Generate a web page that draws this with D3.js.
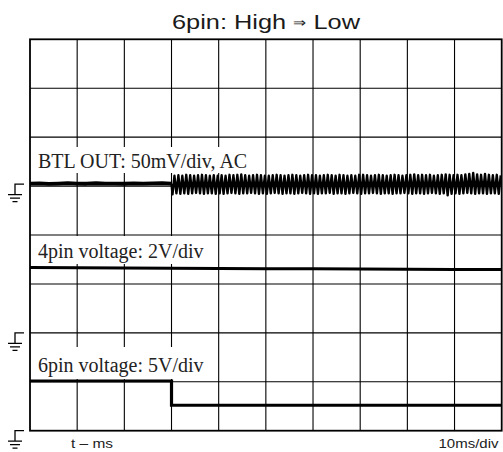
<!DOCTYPE html>
<html>
<head>
<meta charset="utf-8">
<script src="https://cdn.jsdelivr.net/npm/d3@7"></script>
<style>
  html, body { margin: 0; padding: 0; background: #fff; }
  svg { display: block; }
</style>
</head>
<body>
<svg id="chart" width="503" height="452"></svg>
<script>
// ---------- data ----------
const titleParts = ["6pin: High ", "\u21D2", " Low"];
const timeTicks = [0, 10, 20, 30, 40, 50, 60, 70, 80, 90, 100];   // ms, 10 ms/div
const divTicks = [0, 1, 2, 3, 4, 5, 6, 7, 8];                      // vertical divisions
const xLabel = "t \u2013 ms";
const xScaleLabel = "10ms/div";

const channelNames = ["BTL OUT: 50mV/div, AC", "4pin voltage: 2V/div", "6pin voltage: 5V/div"];
const channelPerDiv = [50, 2, 5];          // mV/div, V/div, V/div
const channelGroundDiv = [5.04, 2, 0];     // ground marker positions (divisions from bottom)

// BTL OUT before the switch (mV), sampled every 2 ms from 0 to 30 ms
const btlFlatTime = [0, 2, 4, 6, 8, 10, 12, 14, 16, 18, 20, 22, 24, 26, 28, 30];
const btlFlatMv = [0.5, 0.8, 0.3, 0.6, 1.0, 0.5, 0.4, 0.9, 0.5, 0.6, 0.4, 0.8, 0.5, 0.7, 1.0, 0.6];

// BTL OUT after the switch: ripple of ~12 cycles per division, peak / trough per cycle (mV)
const btlRippleStart = 30;       // ms
const btlRipplePeriod = 10 / 12; // ms
const btlPeakMv = [
  8.5, 9, 8.5, 9.5, 9, 8.5, 9, 9.5, 9, 8.5, 9, 8.5,
  9, 8.5, 9.5, 9, 9.5, 10, 9, 8.5, 9, 9.5, 9, 8.5,
  8.5, 9, 9.5, 9, 8.5, 9, 9.5, 9, 8.5, 9, 9.5, 9,
  9, 8.5, 9, 9.5, 9, 8.5, 9.5, 9, 8.5, 9, 8.5, 9.5,
  9.5, 9, 8.5, 9, 9.5, 9, 8.5, 9, 9.5, 9, 8.5, 9,
  9.5, 10, 9, 9.5, 9, 9.5, 8.5, 9, 9.5, 10, 9.5, 9,
  9.5, 9, 10, 10.5, 11.5, 10, 9.5, 10.5, 9.5, 9, 9.5, 9
];
const btlTroughMv = [
  -10.5, -9.5, -10, -9.5, -10, -9.5, -9, -9.5, -10, -9.5, -9.5, -10,
  -9.5, -10, -9.5, -9, -9.5, -10, -9.5, -9.5, -9, -9.5, -10, -9.5,
  -10, -9.5, -9, -9.5, -10, -9.5, -9.5, -10, -9.5, -9, -9.5, -10,
  -9.5, -10, -9.5, -9.5, -9, -10, -9.5, -9.5, -10, -9.5, -9, -9.5,
  -10, -9.5, -9.5, -9, -9.5, -10, -9.5, -9.5, -10, -9.5, -9.5, -9,
  -9.5, -10, -9.5, -9.5, -10, -9.5, -9, -9.5, -10, -9.5, -11.5, -10,
  -9.5, -10, -9.5, -9, -9.5, -10, -9.5, -9.5, -10, -9.5, -9.5, -10
];

// 4pin voltage (V)
const pin4Time = [0, 10, 20, 30, 40, 50, 60, 70, 80, 90, 100];
const pin4V = [2.67, 2.66, 2.65, 2.64, 2.63, 2.62, 2.62, 2.61, 2.6, 2.59, 2.59];

// 6pin voltage (V): step High -> Low at 30 ms
const pin6Time = [0, 30, 30, 100];
const pin6V = [5.08, 5.08, 2.6, 2.6];

// ---------- drawing ----------
const svg = d3.select("#chart");
const x = d3.scaleLinear().domain([0, 100]).range([30, 501.7]);
const y = d3.scaleLinear().domain([0, 8]).range([430.7, 39.3]);
const yCh = (ch, v) => y(channelGroundDiv[ch] + v / channelPerDiv[ch]);

svg.append("defs").append("clipPath").attr("id", "plotClip")
  .append("rect")
  .attr("x", x(0)).attr("y", y(8))
  .attr("width", x(100) - x(0)).attr("height", y(0) - y(8));

const sans = "'Liberation Sans', Arial, Helvetica, sans-serif";

// title
const titleText = svg.append("text")
  .attr("x", 172).attr("y", 29)
  .attr("textLength", 188).attr("lengthAdjust", "spacingAndGlyphs")
  .style("font-family", sans)
  .style("font-size", "21px")
  .attr("fill", "#1a1a1a");
titleText.append("tspan").text(titleParts[0]);
titleText.append("tspan").style("font-size", "13px").attr("dy", -2).text(titleParts[1]);
titleText.append("tspan").attr("dy", 2).text(titleParts[2]);

// grid
const grid = svg.append("g").attr("stroke", "#000").attr("stroke-width", 1.1);
grid.selectAll("line.v").data(timeTicks.slice(1, -1)).join("line")
  .attr("x1", d => x(d)).attr("x2", d => x(d))
  .attr("y1", y(8)).attr("y2", y(0));
grid.selectAll("line.h").data(divTicks.slice(1, -1)).join("line")
  .attr("x1", x(0)).attr("x2", x(100))
  .attr("y1", d => y(d)).attr("y2", d => y(d));

// label boxes (white backgrounds hiding the grid) and labels
const labelBoxes = [
  { x0: 31, x1: 264, y0: 147, y1: 173, base: 168 },
  { x0: 31, x1: 216, y0: 236, y1: 264, base: 257.5 },
  { x0: 31, x1: 216, y0: 347, y1: 379, base: 371.5 }
];
labelBoxes.forEach((b, i) => {
  svg.append("rect").attr("x", b.x0).attr("y", b.y0)
    .attr("width", b.x1 - b.x0).attr("height", b.y1 - b.y0).attr("fill", "#fff");
  svg.append("text").attr("x", 38).attr("y", b.base)
    .style("font-family", "'Liberation Serif', 'Times New Roman', serif")
    .style("font-size", "20px")
    .attr("fill", "#222")
    .text(channelNames[i]);
});

// outer frame
svg.append("rect")
  .attr("x", x(0)).attr("y", y(8))
  .attr("width", x(100) - x(0)).attr("height", y(0) - y(8))
  .attr("fill", "none").attr("stroke", "#000").attr("stroke-width", 1.8);

// traces
const traces = svg.append("g").attr("clip-path", "url(#plotClip)");
const line = d3.line();

const btlFlat = btlFlatTime.map((t, i) => [x(t), yCh(0, btlFlatMv[i])]);
traces.append("path").attr("d", line(btlFlat))
  .attr("fill", "none").attr("stroke", "#000").attr("stroke-width", 3.8)
  .attr("stroke-linejoin", "round");

const ripple = [[x(btlRippleStart), yCh(0, btlFlatMv[btlFlatMv.length - 1])]];
btlPeakMv.forEach((p, i) => {
  const t0 = btlRippleStart + i * btlRipplePeriod;
  ripple.push([x(t0 + btlRipplePeriod * 0.25), yCh(0, btlTroughMv[i])]);
  ripple.push([x(t0 + btlRipplePeriod * 0.75), yCh(0, p)]);
});
traces.append("path").attr("d", line(ripple))
  .attr("fill", "none").attr("stroke", "#000").attr("stroke-width", 2.4)
  .attr("stroke-linejoin", "round");

traces.append("path")
  .attr("d", line(pin4Time.map((t, i) => [x(t), yCh(1, pin4V[i])])))
  .attr("fill", "none").attr("stroke", "#000").attr("stroke-width", 3);

traces.append("path")
  .attr("d", line(pin6Time.map((t, i) => [x(t), yCh(2, pin6V[i])])))
  .attr("fill", "none").attr("stroke", "#000").attr("stroke-width", 3.2);

// ground markers
const gnd = svg.append("g").attr("stroke", "#000").attr("stroke-width", 1.3).attr("fill", "none");
channelGroundDiv.forEach(gd => {
  const g = y(gd);
  gnd.append("path").attr("d",
    `M24,${g}H15V${g + 10.5}` +
    `M8,${g + 10.5}H22` +
    `M10,${g + 14}H20` +
    `M12.5,${g + 17.5}H17.5`);
});

// bottom labels
svg.append("text").attr("x", 71).attr("y", 447.5)
  .attr("textLength", 42).attr("lengthAdjust", "spacingAndGlyphs")
  .style("font-family", sans)
  .style("font-size", "13.5px")
  .attr("fill", "#222").text(xLabel);
svg.append("text").attr("x", 438.5).attr("y", 447.5)
  .attr("textLength", 60).attr("lengthAdjust", "spacingAndGlyphs")
  .style("font-family", sans)
  .style("font-size", "13.5px")
  .attr("fill", "#222").text(xScaleLabel);
</script>
</body>
</html>
